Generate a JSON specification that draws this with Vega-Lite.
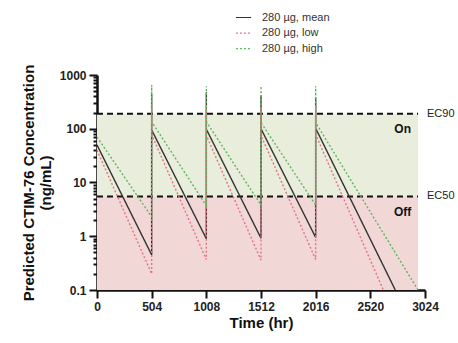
{
  "$schema": "https://vega.github.io/schema/vega-lite/v6.json",
  "autosize": "none",
  "width": 328,
  "height": 215,
  "padding": {"left": 97, "top": 75, "right": 33, "bottom": 53},
  "background": "white",
  "config": {
    "view": {"stroke": null},
    "font": "Liberation Sans",
    "axis": {"grid": false}
  },
  "layer": [
    {
      "data": {"values": [
        {"zone": "On", "x0": 0, "x1": 2960, "lo": 5.5, "hi": 190},
        {"zone": "Off", "x0": 0, "x1": 2960, "lo": 0.1, "hi": 5.5}
      ]},
      "mark": {"type": "rect"},
      "encoding": {
        "x": {
          "field": "x0", "type": "quantitative", "scale": {"domain": [0, 3024], "nice": false, "zero": false},
          "axis": {
            "title": "Time (hr)",
            "titleFontSize": 15, "titleFontWeight": "bold", "titleColor": "#111111", "titlePadding": 3,
            "values": [0, 252, 504, 756, 1008, 1260, 1512, 1764, 2016, 2268, 2520, 2772, 3024],
            "labelExpr": "datum.value % 504 === 0 ? format(datum.value, 'd') : ''",
            "tickSize": {"condition": {"test": "datum.value % 504 === 0", "value": 8}, "value": 5},
            "tickWidth": 2, "tickColor": "#111111",
            "domainWidth": 2.5, "domainColor": "#111111",
            "labelFontSize": 12, "labelFontWeight": "bold", "labelColor": "#222222", "labelPadding": 3,
            "labelFlush": false, "labelOverlap": false
          }
        },
        "x2": {"field": "x1"},
        "y": {
          "field": "lo", "type": "quantitative", "scale": {"type": "log", "domain": [0.1, 1000], "nice": false},
          "axis": {
            "title": ["Predicted CTIM-76 Concentration", "(ng/mL)"],
            "titleFontSize": 15, "titleFontWeight": "bold", "titleColor": "#111111", "titlePadding": 6, "titleLineHeight": 17,
            "values": [0.1, 0.2, 0.3, 0.4, 0.5, 0.6, 0.7, 0.8, 0.9, 1, 2, 3, 4, 5, 6, 7, 8, 9, 10, 20, 30, 40, 50, 60, 70, 80, 90, 100, 200, 300, 400, 500, 600, 700, 800, 900, 1000],
            "labelExpr": "indexof([0.1, 1, 10, 100, 1000], datum.value) >= 0 ? (datum.value < 1 ? '0.1' : format(datum.value, 'd')) : ''",
            "tickSize": {"condition": {"test": "indexof([0.1, 1, 10, 100, 1000], datum.value) >= 0", "value": 8}, "value": 4},
            "tickWidth": 2, "tickColor": "#111111",
            "domainWidth": 2.5, "domainColor": "#111111",
            "labelFontSize": 12, "labelFontWeight": "bold", "labelColor": "#222222", "labelPadding": 3,
            "labelFlush": false, "labelOverlap": false
          }
        },
        "y2": {"field": "hi"},
        "fill": {"field": "zone", "type": "nominal", "scale": {"domain": ["On", "Off"], "range": ["#e9eddb", "#f2d7d7"]}, "legend": null}
      }
    },
    {
      "data": {"values": [
        {"name": "EC90", "v": 190, "x0": 0, "x1": 2960, "lx": 3024},
        {"name": "EC50", "v": 5.5, "x0": 0, "x1": 2960, "lx": 3024}
      ]},
      "layer": [
        {
          "mark": {"type": "rule", "color": "#111111", "strokeWidth": 2, "strokeDash": [6, 4]},
          "encoding": {
            "x": {"field": "x0", "type": "quantitative"},
            "x2": {"field": "x1"},
            "y": {"field": "v", "type": "quantitative"}
          }
        },
        {
          "mark": {"type": "text", "align": "left", "baseline": "middle", "dx": 2, "fontSize": 11, "color": "#222222"},
          "encoding": {
            "x": {"field": "lx", "type": "quantitative"},
            "y": {"field": "v", "type": "quantitative"},
            "text": {"field": "name"}
          }
        }
      ]
    },
    {
      "data": {"values": [
        {"s": "280 µg, mean", "i": 0, "t": 0, "c": 50},
        {"s": "280 µg, mean", "i": 1, "t": 504, "c": 0.45},
        {"s": "280 µg, mean", "i": 2, "t": 504, "c": 450},
        {"s": "280 µg, mean", "i": 3, "t": 504, "c": 95},
        {"s": "280 µg, mean", "i": 4, "t": 1008, "c": 0.9},
        {"s": "280 µg, mean", "i": 5, "t": 1008, "c": 480},
        {"s": "280 µg, mean", "i": 6, "t": 1008, "c": 98},
        {"s": "280 µg, mean", "i": 7, "t": 1512, "c": 0.92},
        {"s": "280 µg, mean", "i": 8, "t": 1512, "c": 420},
        {"s": "280 µg, mean", "i": 9, "t": 1512, "c": 100},
        {"s": "280 µg, mean", "i": 10, "t": 2016, "c": 0.95},
        {"s": "280 µg, mean", "i": 11, "t": 2016, "c": 380},
        {"s": "280 µg, mean", "i": 12, "t": 2016, "c": 102},
        {"s": "280 µg, mean", "i": 13, "t": 2750, "c": 0.1},
        {"s": "280 µg, low", "i": 0, "t": 0, "c": 40},
        {"s": "280 µg, low", "i": 1, "t": 504, "c": 0.2},
        {"s": "280 µg, low", "i": 2, "t": 504, "c": 250},
        {"s": "280 µg, low", "i": 3, "t": 504, "c": 78},
        {"s": "280 µg, low", "i": 4, "t": 1008, "c": 0.37},
        {"s": "280 µg, low", "i": 5, "t": 1008, "c": 250},
        {"s": "280 µg, low", "i": 6, "t": 1008, "c": 75},
        {"s": "280 µg, low", "i": 7, "t": 1512, "c": 0.36},
        {"s": "280 µg, low", "i": 8, "t": 1512, "c": 250},
        {"s": "280 µg, low", "i": 9, "t": 1512, "c": 75},
        {"s": "280 µg, low", "i": 10, "t": 2016, "c": 0.37},
        {"s": "280 µg, low", "i": 11, "t": 2016, "c": 250},
        {"s": "280 µg, low", "i": 12, "t": 2016, "c": 78},
        {"s": "280 µg, low", "i": 13, "t": 2640, "c": 0.1},
        {"s": "280 µg, high", "i": 0, "t": 0, "c": 70},
        {"s": "280 µg, high", "i": 1, "t": 504, "c": 2.3},
        {"s": "280 µg, high", "i": 2, "t": 504, "c": 650},
        {"s": "280 µg, high", "i": 3, "t": 504, "c": 135},
        {"s": "280 µg, high", "i": 4, "t": 1008, "c": 3.7},
        {"s": "280 µg, high", "i": 5, "t": 1008, "c": 620},
        {"s": "280 µg, high", "i": 6, "t": 1008, "c": 135},
        {"s": "280 µg, high", "i": 7, "t": 1512, "c": 3.8},
        {"s": "280 µg, high", "i": 8, "t": 1512, "c": 620},
        {"s": "280 µg, high", "i": 9, "t": 1512, "c": 130},
        {"s": "280 µg, high", "i": 10, "t": 2016, "c": 3.8},
        {"s": "280 µg, high", "i": 11, "t": 2016, "c": 620},
        {"s": "280 µg, high", "i": 12, "t": 2016, "c": 130},
        {"s": "280 µg, high", "i": 13, "t": 2960, "c": 0.1}
      ]},
      "mark": {"type": "line", "strokeWidth": 1.4},
      "encoding": {
        "x": {"field": "t", "type": "quantitative"},
        "y": {"field": "c", "type": "quantitative"},
        "order": {"field": "i", "type": "quantitative"},
        "color": {
          "field": "s", "type": "nominal",
          "scale": {"domain": ["280 µg, mean", "280 µg, low", "280 µg, high"], "range": ["#333333", "#e57383", "#5cb85c"]},
          "legend": {
            "title": null, "orient": "none", "legendX": 138, "legendY": -66,
            "symbolType": "stroke", "symbolSize": 230, "symbolStrokeWidth": 1.2,
            "labelFontSize": 11, "labelColor": "#333333", "labelOffset": 10, "rowPadding": 1.6
          }
        },
        "strokeDash": {
          "field": "s", "type": "nominal",
          "scale": {"domain": ["280 µg, mean", "280 µg, low", "280 µg, high"], "range": [[1, 0], [2, 2], [2, 2]]},
          "legend": {
            "title": null, "orient": "none", "legendX": 138, "legendY": -66,
            "symbolType": "stroke", "symbolSize": 230, "symbolStrokeWidth": 1.2,
            "labelFontSize": 11, "labelColor": "#333333", "labelOffset": 10, "rowPadding": 1.6
          }
        }
      }
    },
    {
      "data": {"values": [
        {"label": "On", "t": 2818, "c": 100},
        {"label": "Off", "t": 2818, "c": 2.8}
      ]},
      "mark": {"type": "text", "fontSize": 12, "fontWeight": "bold", "color": "#111111", "align": "center", "baseline": "middle"},
      "encoding": {
        "x": {"field": "t", "type": "quantitative"},
        "y": {"field": "c", "type": "quantitative"},
        "text": {"field": "label"}
      }
    }
  ]
}
